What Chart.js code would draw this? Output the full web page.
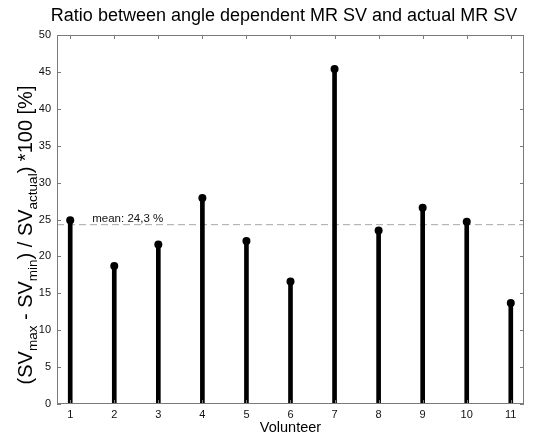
<!DOCTYPE html>
<html>
<head>
<meta charset="utf-8">
<script src="https://cdn.jsdelivr.net/npm/chart.js@4/dist/chart.umd.min.js"></script>
<style>
  body { margin: 0; background: #fff; }
  canvas { display: block; }
</style>
</head>
<body>
<canvas id="myChart" width="533" height="435"></canvas>
<script>
// stem values per volunteer, in %
const volunteers = [1, 2, 3, 4, 5, 6, 7, 8, 9, 10, 11];
const ratios = [24.9, 18.7, 21.6, 27.9, 22.1, 16.6, 45.4, 23.5, 26.6, 24.7, 13.7];
const meanValue = 24.3;
const meanText = "mean: 24,3 %";
const yTicks = [0, 5, 10, 15, 20, 25, 30, 35, 40, 45, 50];

const FONT = "Arial, 'Liberation Sans', sans-serif";

// frame, inward ticks and the text around the plot
const decorations = {
  id: "decorations",
  afterDraw(chart) {
    const ctx = chart.ctx;
    const a = chart.chartArea;
    const xs = chart.scales.x;
    const ys = chart.scales.y;

    ctx.save();
    ctx.strokeStyle = "#7a7a7a";
    ctx.lineWidth = 1;
    ctx.strokeRect(a.left + 0.5, a.top + 0.5, a.right - a.left - 1, a.bottom - a.top - 1);

    ctx.beginPath();
    volunteers.forEach((v) => {
      const px = Math.round(xs.getPixelForValue(v)) + 0.5;
      ctx.moveTo(px, a.bottom);
      ctx.lineTo(px, a.bottom - 4);
      ctx.moveTo(px, a.top);
      ctx.lineTo(px, a.top + 4);
    });
    yTicks.forEach((t) => {
      const py = Math.round(ys.getPixelForValue(t)) + 0.5;
      ctx.moveTo(a.left, py);
      ctx.lineTo(a.left + 4, py);
      ctx.moveTo(a.right, py);
      ctx.lineTo(a.right - 4, py);
    });
    ctx.stroke();

    // mean label
    ctx.fillStyle = "#111";
    ctx.font = "11.5px " + FONT;
    ctx.textAlign = "left";
    ctx.textBaseline = "alphabetic";
    ctx.fillText(meanText, xs.getPixelForValue(1.5), ys.getPixelForValue(meanValue) - 3);

    // title
    ctx.fillStyle = "#000";
    ctx.font = "18px " + FONT;
    ctx.textAlign = "center";
    ctx.textBaseline = "middle";
    ctx.fillText("Ratio between angle dependent MR SV and actual MR SV", 284, 16);

    // x axis title
    ctx.font = "14.5px " + FONT;
    ctx.fillText("Volunteer", (a.left + a.right) / 2, 428);

    // y axis title with subscripts
    const parts = [
      ["(SV", false], ["max", true], [" - SV", false], ["min", true],
      [") / SV", false], ["actual", true], [") *100 [%]", false]
    ];
    const mainFont = "20px " + FONT;
    const subFont = "13.5px " + FONT;
    let total = 0;
    parts.forEach((p) => {
      ctx.font = p[1] ? subFont : mainFont;
      total += ctx.measureText(p[0]).width;
    });
    ctx.translate(32, 235);
    ctx.rotate(-Math.PI / 2);
    ctx.textAlign = "left";
    ctx.textBaseline = "alphabetic";
    let x = -total / 2;
    parts.forEach((p) => {
      ctx.font = p[1] ? subFont : mainFont;
      ctx.fillText(p[0], x, p[1] ? 5 : 0);
      x += ctx.measureText(p[0]).width;
    });
    ctx.restore();
  }
};

new Chart(document.getElementById("myChart"), {
  type: "bar",
  data: {
    datasets: [
      {
        type: "line",
        data: [{ x: 0.7, y: meanValue }, { x: 11.3, y: meanValue }],
        borderColor: "#a8a8a8",
        borderWidth: 1,
        borderDash: [7, 4],
        pointRadius: 0,
        order: 3
      },
      {
        type: "bar",
        data: volunteers.map((v, i) => ({ x: v, y: ratios[i] })),
        backgroundColor: "#000",
        barThickness: 4,
        order: 2
      },
      {
        type: "line",
        data: volunteers.map((v, i) => ({ x: v, y: ratios[i] })),
        showLine: false,
        pointRadius: 4,
        pointBorderWidth: 0,
        pointBackgroundColor: "#000",
        order: 1
      }
    ]
  },
  options: {
    responsive: false,
    animation: false,
    layout: { padding: { top: 35, right: 9, left: 0, bottom: 0 } },
    plugins: {
      legend: { display: false },
      tooltip: { enabled: false }
    },
    scales: {
      x: {
        type: "linear",
        min: 0.7,
        max: 11.3,
        offset: false,
        grid: { display: false, drawTicks: false },
        border: { display: false },
        afterBuildTicks: (scale) => { scale.ticks = volunteers.map((v) => ({ value: v })); },
        afterFit: (scale) => { scale.height = 31; },
        ticks: { color: "#111", font: { size: 11, family: FONT }, padding: 4, maxRotation: 0 }
      },
      y: {
        min: 0,
        max: 50,
        grid: { display: false, drawTicks: false },
        border: { display: false },
        afterBuildTicks: (scale) => { scale.ticks = yTicks.map((t) => ({ value: t })); },
        afterFit: (scale) => { scale.width = 57; },
        ticks: { color: "#111", font: { size: 11, family: FONT }, padding: 6 }
      }
    }
  },
  plugins: [decorations]
});
</script>
</body>
</html>
